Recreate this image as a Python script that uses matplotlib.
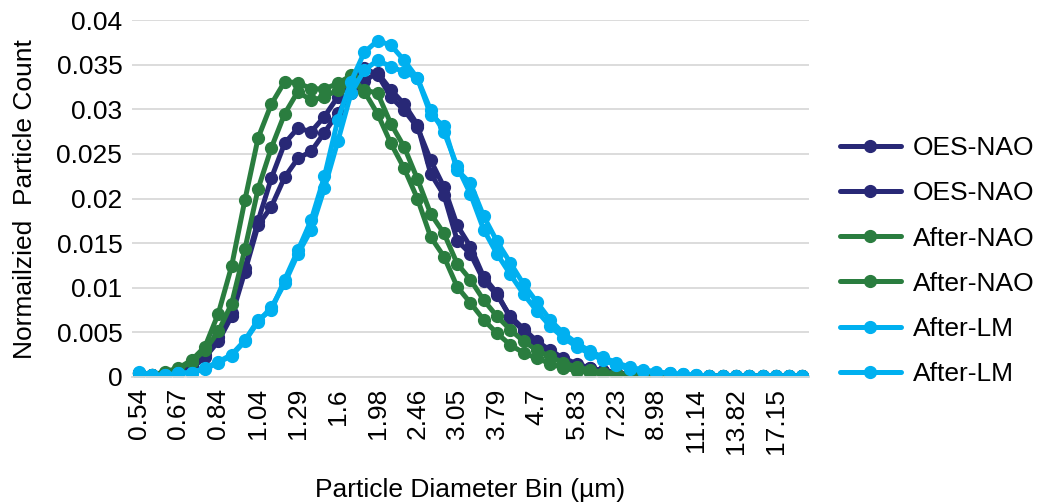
import matplotlib
matplotlib.use('Agg')
import matplotlib.pyplot as plt

plt.rcParams['font.family'] = ['Liberation Sans', 'DejaVu Sans']

# x categories: 51 diameter bins, every 3rd one labelled
n_bins = 51
tick_labels = ['0.54', '0.67', '0.84', '1.04', '1.29', '1.6', '1.98', '2.46', '3.05',
               '3.79', '4.7', '5.83', '7.23', '8.98', '11.14', '13.82', '17.15']

oes_nao_1 = [0.0005, 0.0002, 0.0003, 0.0006, 0.0012, 0.0025, 0.0045, 0.0072, 0.0122, 0.0175,
             0.0223, 0.0262, 0.0279, 0.0275, 0.0292, 0.0314, 0.0331, 0.0346, 0.0339, 0.0314,
             0.0299, 0.0280, 0.0243, 0.0213, 0.0170, 0.0146, 0.0112, 0.0094, 0.0066, 0.0052,
             0.0038, 0.0029, 0.0020, 0.0014, 0.0010, 0.0007, 0.0005, 0.0003, 0.0002, 0.0001,
             0.0001, 0.0001, 0.0001, 0.0001, 0.0001, 0.0001, 0.0001, 0.0001, 0.0001, 0.0001, 0.0001]
oes_nao_2 = [0.0004, 0.0002, 0.0003, 0.0005, 0.0010, 0.0022, 0.0040, 0.0068, 0.0118, 0.0170,
             0.0191, 0.0224, 0.0245, 0.0253, 0.0274, 0.0296, 0.0318, 0.0332, 0.0341, 0.0322,
             0.0306, 0.0283, 0.0228, 0.0204, 0.0153, 0.0138, 0.0108, 0.0092, 0.0068, 0.0054,
             0.0040, 0.0030, 0.0021, 0.0015, 0.0010, 0.0007, 0.0005, 0.0003, 0.0002, 0.0001,
             0.0001, 0.0001, 0.0001, 0.0001, 0.0001, 0.0001, 0.0001, 0.0001, 0.0001, 0.0001, 0.0001]
after_nao_1 = [0.0005, 0.0002, 0.0006, 0.0010, 0.0019, 0.0034, 0.0071, 0.0124, 0.0198, 0.0268,
               0.0306, 0.0331, 0.0330, 0.0323, 0.0323, 0.0329, 0.0338, 0.0320, 0.0295, 0.0262,
               0.0234, 0.0200, 0.0157, 0.0135, 0.0101, 0.0083, 0.0064, 0.0049, 0.0036, 0.0027,
               0.0021, 0.0015, 0.0010, 0.0007, 0.0005, 0.0004, 0.0003, 0.0002, 0.0002, 0.0001,
               0.0001, 0.0001, 0.0001, 0.0001, 0.0001, 0.0001, 0.0001, 0.0001, 0.0001, 0.0001, 0.0001]
after_nao_2 = [0.0004, 0.0002, 0.0005, 0.0009, 0.0017, 0.0030, 0.0051, 0.0082, 0.0143, 0.0211,
               0.0257, 0.0295, 0.0320, 0.0310, 0.0314, 0.0322, 0.0330, 0.0322, 0.0318, 0.0284,
               0.0258, 0.0222, 0.0183, 0.0161, 0.0127, 0.0109, 0.0086, 0.0068, 0.0053, 0.0040,
               0.0030, 0.0023, 0.0016, 0.0011, 0.0008, 0.0005, 0.0004, 0.0003, 0.0002, 0.0002,
               0.0001, 0.0001, 0.0001, 0.0001, 0.0001, 0.0001, 0.0001, 0.0001, 0.0001, 0.0001, 0.0001]
after_lm_1 = [0.0006, 0.0002, 0.0002, 0.0004, 0.0005, 0.0010, 0.0017, 0.0025, 0.0041, 0.0064,
              0.0075, 0.0109, 0.0142, 0.0176, 0.0225, 0.0288, 0.0331, 0.0364, 0.0377, 0.0372,
              0.0355, 0.0335, 0.0294, 0.0281, 0.0232, 0.0217, 0.0180, 0.0152, 0.0128, 0.0104,
              0.0084, 0.0064, 0.0049, 0.0038, 0.0029, 0.0022, 0.0016, 0.0011, 0.0008, 0.0006,
              0.0004, 0.0003, 0.0002, 0.0001, 0.0001, 0.0001, 0.0001, 0.0001, 0.0001, 0.0001, 0.0001]
after_lm_2 = [0.0005, 0.0002, 0.0002, 0.0004, 0.0005, 0.0009, 0.0016, 0.0024, 0.0040, 0.0062,
              0.0078, 0.0105, 0.0138, 0.0165, 0.0212, 0.0264, 0.0318, 0.0344, 0.0355, 0.0348,
              0.0342, 0.0335, 0.0299, 0.0275, 0.0236, 0.0205, 0.0165, 0.0138, 0.0115, 0.0093,
              0.0074, 0.0057, 0.0044, 0.0034, 0.0026, 0.0019, 0.0013, 0.0009, 0.0007, 0.0005,
              0.0004, 0.0003, 0.0002, 0.0001, 0.0001, 0.0001, 0.0001, 0.0001, 0.0001, 0.0001, 0.0001]

navy = '#282876'
green = '#2A7D3F'
cyan = '#00B0F0'
fs = 19

series = [(oes_nao_1, 'OES-NAO', navy), (oes_nao_2, 'OES-NAO', navy),
          (after_nao_1, 'After-NAO', green), (after_nao_2, 'After-NAO', green),
          (after_lm_1, 'After-LM', cyan), (after_lm_2, 'After-LM', cyan)]

fig = plt.figure(figsize=(10.37, 5.04), dpi=100)
ax = fig.add_axes([0.1273, 0.252, 0.6528, 0.708])

x = list(range(n_bins))
for vals, name, col in series:
    ax.plot(x, vals, color=col, lw=3.6, marker='o', ms=8.5, label=name,
            solid_capstyle='round', solid_joinstyle='round')

ax.set_xlim(-0.5, n_bins - 0.5)
ax.set_ylim(0, 0.04)
ax.set_yticks([0, 0.005, 0.01, 0.015, 0.02, 0.025, 0.03, 0.035, 0.04])
ax.set_yticklabels(['0', '0.005', '0.01', '0.015', '0.02', '0.025', '0.03', '0.035', '0.04'],
                   fontsize=fs)
ax.set_xticks(list(range(0, n_bins, 3)))
ax.set_xticklabels(tick_labels, rotation=90, fontsize=fs)
ax.tick_params(length=0, pad=7)
ax.tick_params(axis='x', pad=8)

ax.grid(axis='y', color='#D9D9D9', lw=1.3)
ax.set_axisbelow(True)
for s in ['top', 'right', 'left']:
    ax.spines[s].set_visible(False)
ax.spines['bottom'].set_color('#D9D9D9')
ax.spines['bottom'].set_linewidth(1.3)

ax.set_xlabel('Particle Diameter Bin (µm)', fontsize=fs, labelpad=17)
ax.set_ylabel('Normailzied  Particle Count', fontsize=fs, labelpad=14)

fig.legend(loc='center left', bbox_to_anchor=(0.81, 0.482), frameon=False,
           fontsize=fs, handlelength=2.3, labelspacing=0.8, handletextpad=0.45,
           borderaxespad=0, borderpad=0)

fig.savefig('out.png', dpi=100)
